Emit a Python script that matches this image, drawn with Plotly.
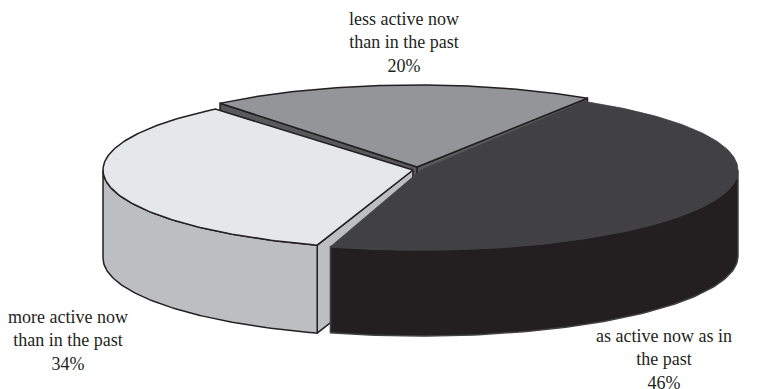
import numpy as np
import plotly.graph_objects as go

categories = ["less active now<br>than in the past", "as active now as in<br>the past", "more active now<br>than in the past"]
values = [20, 46, 34]
slice_starts = [129, 59, -108]
top_colors = ["#939598", "#414042", "#e6e7e8"]
wall_colors = ["#58595b", "#231f20", "#bcbec0"]
edge_colors = ["#231f20", "#414042", "#231f20"]
apexes = [(417, 167), (421, 170), (413, 170)]
radii_x = [313, 317, 310]
radii_y = [82, 80, 79]
depths = [87, 86, 88]
label_xy = [(404, 42), (664, 359), (68, 340)]

fig = go.Figure()


def poly(x, y, fill, line, width):
    fig.add_trace(go.Scatter(x=x, y=y, mode="lines", fill="toself", fillcolor=fill,
                             line=dict(color=line, width=width), hoverinfo="skip", showlegend=False))


for i in [0, 2, 1]:
    t0 = slice_starts[i]
    t1 = t0 - values[i] * 3.6
    cx, cy = apexes[i]
    A, B, DEPTH = radii_x[i], radii_y[i], depths[i]
    t = np.radians(np.linspace(t0, t1, 160))
    ax = cx + A * np.cos(t)
    ay = cy - B * np.sin(t)
    if i == 0:
        fx = [cx, ax[-1], ax[-1], cx, cx]
        fy = [cy, ay[-1], ay[-1] + DEPTH, cy + DEPTH, cy]
        poly(fx, fy, wall_colors[i], edge_colors[i], 1.5)
    if i != 1:
        gx = [cx, ax[0], ax[0], cx, cx]
        gy = [cy, ay[0], ay[0] + DEPTH, cy + DEPTH, cy]
        poly(gx, gy, wall_colors[i], edge_colors[i], 1.5)
    mask = np.sin(t) <= 0
    if mask.any():
        wx = np.r_[ax[mask], ax[mask][::-1], ax[mask][0]]
        wy = np.r_[ay[mask], (ay[mask] + DEPTH)[::-1], ay[mask][0]]
        poly(wx, wy, wall_colors[i], edge_colors[i], 1.5)
    poly(np.r_[cx, ax, cx], np.r_[cy, ay, cy], top_colors[i], edge_colors[i], 1.5 if i != 1 else 0.8)

for c, v, (lx, ly) in zip(categories, values, label_xy):
    fig.add_annotation(x=lx, y=ly, text=f"{c}<br>{v}%", showarrow=False, xanchor="center", yanchor="middle",
                       font=dict(family="Liberation Serif", size=18, color="#231f20"), align="center")

fig.update_layout(width=763, height=389, margin=dict(l=0, r=0, t=0, b=0), paper_bgcolor="white",
                  plot_bgcolor="white", showlegend=False,
                  xaxis=dict(range=[0, 763], visible=False, fixedrange=True),
                  yaxis=dict(range=[389, 0], visible=False, fixedrange=True))
fig.write_html("out.html", config={"displayModeBar": False},
               post_script="document.body.style.margin='0';document.documentElement.style.overflow='hidden';")
